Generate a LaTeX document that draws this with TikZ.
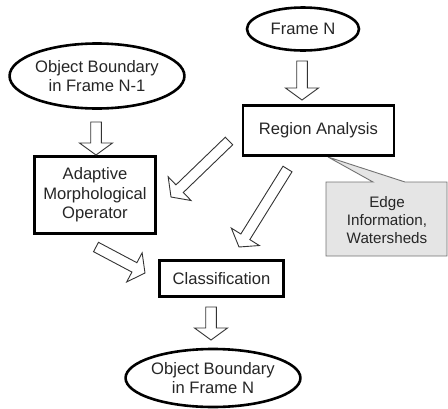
\documentclass[tikz,border=0pt]{standalone}
\usepackage{fontspec}
\setmainfont{Liberation Sans}
\usetikzlibrary{shapes.geometric,calc}
\tikzset{
  ell/.style={draw=black, line width=2.6pt, ellipse, inner sep=0pt, align=center, fill=white},
  boxnode/.style={draw=black, line width=2.8pt, rectangle, inner sep=0pt, align=center, fill=white},
  txt/.style={font=\fontsize{16.6}{19.5}\selectfont, text=black!85},
  smalltxt/.style={font=\fontsize{15.2}{18.2}\selectfont, text=black!85, align=center},
  hollow/.style={draw=black!80, line width=0.9pt, fill=white, line join=miter},
  calloutbox/.style={draw=black!55, line width=0.9pt, fill=black!10, line join=miter},
}
\newcommand\harrow[2]{%
  \coordinate (hb) at ($(#2)!12pt!(#1)$);
  \draw[hollow] ($(#1)!5.3pt!90:(#2)$) -- ($(hb)!5.3pt!90:(#2)$)
    -- ($(hb)!16.5pt!90:(#2)$) -- (#2) -- ($(hb)!16.5pt!-90:(#2)$)
    -- ($(hb)!5.3pt!-90:(#2)$) -- ($(#1)!5.3pt!-90:(#2)$) -- cycle;
}
\begin{document}
\begin{tikzpicture}[x=1pt,y=-1pt]
\useasboundingbox (0,0) rectangle (448,408);

% callout
\coordinate (ctip) at (328,157);
\draw[calloutbox] (326,182) -- (373,182) -- (ctip) -- (405,182) -- (447,182) -- (447,256) -- (326,256) -- cycle;
\node[smalltxt] (eiw) at (387,220) {Edge\\Information,\\Watersheds};

% nodes
\node[ell, txt, minimum width=112pt, minimum height=43pt] (fn) at (303,29) {Frame N};
\node[ell, txt, minimum width=172pt, minimum height=65pt] (ob1) at (97,76) {Object Boundary\\in Frame N-1};
\node[boxnode, txt, minimum width=151pt, minimum height=50pt] (ra) at (318.5,130.5) {Region Analysis};
\node[boxnode, txt, minimum width=121pt, minimum height=77pt] (amo) at (95,195) {Adaptive\\Morphological\\Operator};
\node[boxnode, txt, minimum width=124pt, minimum height=36pt] (cls) at (221.5,278.5) {Classification};
\node[ell, txt, minimum width=158pt, minimum height=58pt] (obn) at (213,378) {Object Boundary\\in Frame N};

% arrow end points
\coordinate (a1t) at (302,61);   \coordinate (a1h) at (302,100);
\coordinate (a2t) at (96,122);   \coordinate (a2h) at (96,155);
\coordinate (a3t) at (229,141);  \coordinate (a3h) at (171,197);
\coordinate (a4t) at (287.5,169);\coordinate (a4h) at (239,247);
\coordinate (a5t) at (96,247);   \coordinate (a5h) at (145,273);
\coordinate (a6t) at (211,307);  \coordinate (a6h) at (211,340);

\harrow{a1t}{a1h}
\harrow{a2t}{a2h}
\harrow{a3t}{a3h}
\harrow{a4t}{a4h}
\harrow{a5t}{a5h}
\harrow{a6t}{a6h}
\end{tikzpicture}
\end{document}
